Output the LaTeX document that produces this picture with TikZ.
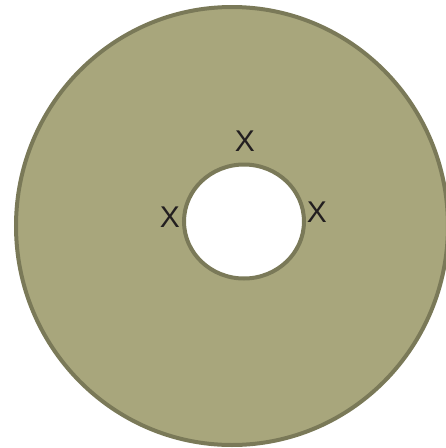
\documentclass[tikz,border=0pt]{standalone}
\usepackage{fontspec}
\setmainfont{Liberation Sans}
\definecolor{ringfill}{RGB}{168,166,124}
\definecolor{ringline}{RGB}{122,121,88}
\definecolor{txt}{RGB}{35,31,32}
\tikzset{
  lbl/.style={text=txt, font=\fontsize{30pt}{30pt}\selectfont, inner sep=0pt, anchor=center}
}
\begin{document}
\begin{tikzpicture}[x=1pt,y=-1pt]
\useasboundingbox (0,0) rectangle (446,448);
\clip (0,0) rectangle (446,448);
\path[fill=ringfill, draw=ringline, line width=4pt, even odd rule]
  (232,226) ellipse [x radius=216, y radius=219]
  (244,221.5) ellipse [x radius=60, y radius=57];
\node[lbl] (top) at (245,141) {X};
\node[lbl] (left) at (170,217) {X};
\node[lbl] (right) at (317,212) {X};
\end{tikzpicture}
\end{document}
